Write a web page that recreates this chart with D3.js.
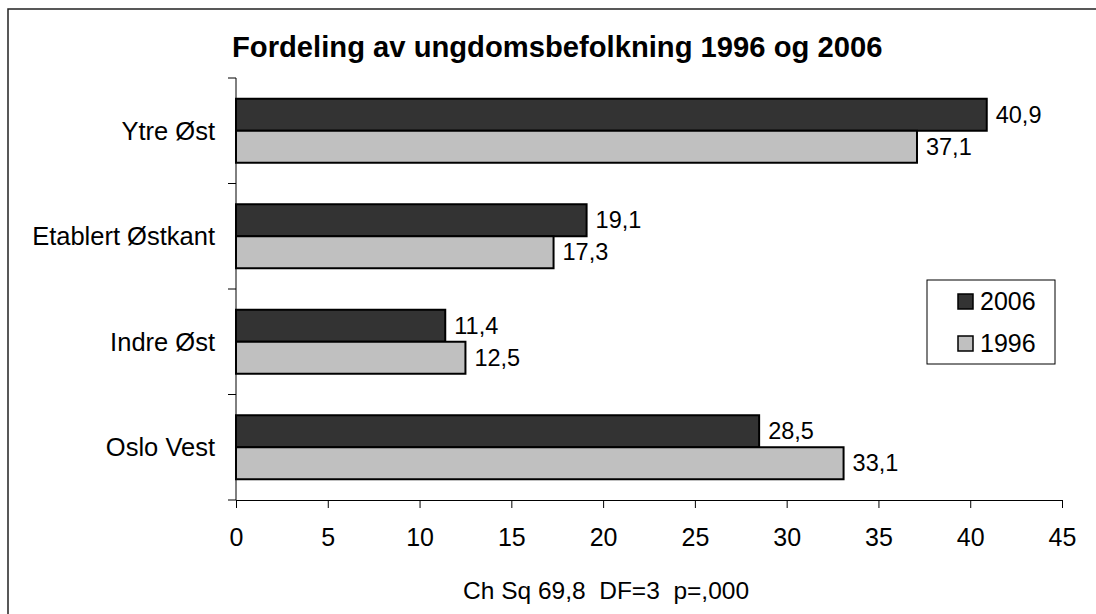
<html>
<head>
<meta charset="utf-8">
<script src="https://d3js.org/d3.v7.min.js"></script>
<style>
  body { margin: 0; background: #fff; }
  svg text { font-family: "Liberation Sans", Arial, Helvetica, sans-serif; fill: #000; }
  .note { white-space: pre; }
</style>
</head>
<body>
<div id="chart"></div>
<script>
  // values (percent)
  var regions = ["Ytre Øst", "Etablert Østkant", "Indre Øst", "Oslo Vest"]
  var years = ["2006", "1996"]
  var values2006 = [40.9, 19.1, 11.4, 28.5]
  var values1996 = [37.1, 17.3, 12.5, 33.1]
  var xTicks = [0, 5, 10, 15, 20, 25, 30, 35, 40, 45]

  var colors = {"2006": "#333333", "1996": "#c0c0c0"}
  var fmt = d => d.toFixed(1).replace(".", ",")

  var width = 1096, height = 614
  var margin = {top: 78, left: 236, right: 34, bottom: 114}

  var svg = d3.select("#chart").append("svg")
      .attr("width", width)
      .attr("height", height)

  // outer frame (only top and left fall inside the picture)
  svg.append("rect")
      .attr("x", 8).attr("y", 9)
      .attr("width", width).attr("height", height)
      .attr("fill", "none")
      .attr("stroke", "#222")
      .attr("stroke-width", 1.5)

  var x = d3.scaleLinear()
      .domain([0, 45])
      .range([margin.left, width - margin.right])

  var y = d3.scaleBand()
      .domain(regions)
      .range([margin.top, height - margin.bottom])

  var inner = d3.scaleBand()
      .domain(years)
      .range([0, 64])

  var rows = regions.map((r, i) => ({region: r, "2006": values2006[i], "1996": values1996[i]}))

  var groups = svg.selectAll("g.row")
    .data(rows)
    .join("g")
      .attr("class", "row")
      .attr("transform", d => `translate(0,${y(d.region) + (y.bandwidth() - 64) / 2})`)

  groups.selectAll("rect")
    .data(d => years.map(k => ({key: k, value: d[k]})))
    .join("rect")
      .attr("x", x(0))
      .attr("y", d => inner(d.key))
      .attr("width", d => x(d.value) - x(0))
      .attr("height", inner.bandwidth())
      .attr("fill", d => colors[d.key])
      .attr("stroke", "#000")
      .attr("stroke-width", 2)

  groups.selectAll("text.val")
    .data(d => years.map(k => ({key: k, value: d[k]})))
    .join("text")
      .attr("class", "val")
      .attr("x", d => x(d.value) + 9)
      .attr("y", d => inner(d.key) + inner.bandwidth() / 2)
      .attr("dy", "0.35em")
      .attr("font-size", 23.5)
      .text(d => fmt(d.value))

  // x axis
  var xAxis = svg.append("g")
      .attr("transform", `translate(0,${height - margin.bottom})`)
      .call(d3.axisBottom(x).tickValues(xTicks).tickSize(8).tickPadding(20).tickFormat(d => d))
  xAxis.selectAll("text").attr("font-size", 25)
  xAxis.select(".domain").attr("stroke", "#000")

  // y axis: ticks on band boundaries
  var yAxis = svg.append("g")
  yAxis.append("line")
      .attr("x1", x(0)).attr("x2", x(0))
      .attr("y1", margin.top).attr("y2", height - margin.bottom)
      .attr("stroke", "#000")
  yAxis.selectAll("line.tick")
    .data(regions.concat(["end"]))
    .join("line")
      .attr("class", "tick")
      .attr("x1", x(0) - 8).attr("x2", x(0))
      .attr("y1", (d, i) => margin.top + i * y.step())
      .attr("y2", (d, i) => margin.top + i * y.step())
      .attr("stroke", "#000")
  yAxis.selectAll("text")
    .data(regions)
    .join("text")
      .attr("x", x(0) - 21)
      .attr("y", d => y(d) + y.bandwidth() / 2)
      .attr("dy", "0.35em")
      .attr("text-anchor", "end")
      .attr("font-size", 25.5)
      .text(d => d)

  // title
  svg.append("text")
      .attr("x", 232)
      .attr("y", 57)
      .attr("font-size", 29.2)
      .attr("font-weight", "bold")
      .text("Fordeling av ungdomsbefolkning 1996 og 2006")

  // note under axis
  svg.append("text")
      .attr("class", "note")
      .attr("x", 463)
      .attr("y", 599)
      .attr("font-size", 24.5)
      .text("Ch Sq 69,8  DF=3  p=,000")

  // legend
  var legend = svg.append("g").attr("transform", "translate(927,280)")
  legend.append("rect")
      .attr("width", 128).attr("height", 84)
      .attr("fill", "#fff").attr("stroke", "#000")
  var li = legend.selectAll("g")
    .data(years)
    .join("g")
      .attr("transform", (d, i) => `translate(31,${21 + i * 42})`)
  li.append("rect")
      .attr("x", 0).attr("y", -7).attr("width", 15).attr("height", 15)
      .attr("fill", d => colors[d]).attr("stroke", "#000").attr("stroke-width", 1.5)
  li.append("text")
      .attr("x", 22)
      .attr("y", 0)
      .attr("dy", "0.35em")
      .attr("font-size", 25)
      .text(d => d)
</script>
</body>
</html>
